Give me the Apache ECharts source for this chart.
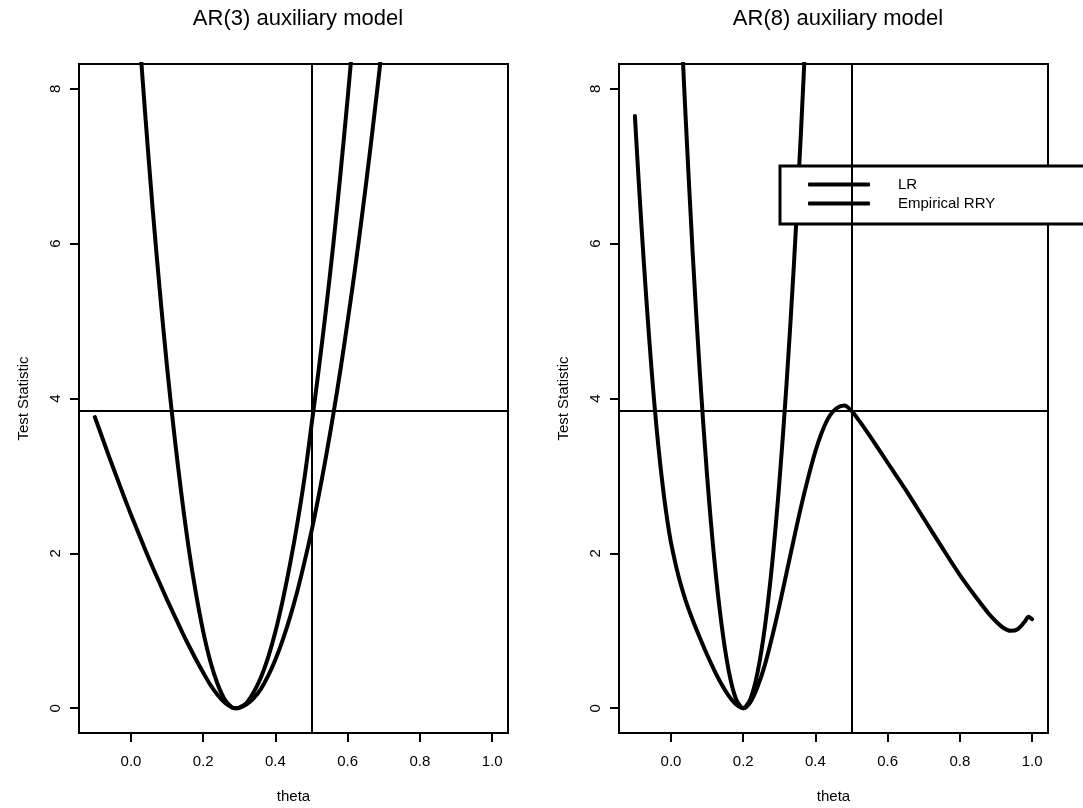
<!DOCTYPE html>
<html>
<head>
<meta charset="utf-8">
<title>AR auxiliary models</title>
<script src="https://cdn.jsdelivr.net/npm/echarts@6/dist/echarts.min.js"></script>
<style>
  html, body { margin: 0; padding: 0; background: #fff; }
  #chart { width: 1083px; height: 808px; }
</style>
</head>
<body>
<div id="chart"></div>
<script>
// tick labels
const xTicks = [0, 0.2, 0.4, 0.6, 0.8, 1.0];
const yTicks = [0, 2, 4, 6, 8];
const critValue = 3.84;   // horizontal reference
const trueTheta = 0.5;    // vertical reference

// AR(3) panel
const ar3SteepTheta = [0.02, 0.04, 0.06, 0.08, 0.10, 0.12, 0.14, 0.16, 0.18, 0.20, 0.22, 0.24, 0.26, 0.28, 0.29,
  0.30, 0.32, 0.34, 0.36, 0.38, 0.40, 0.42, 0.44, 0.46, 0.48, 0.50, 0.52, 0.54, 0.56, 0.58, 0.60, 0.62];
const ar3Steep = [8.89, 7.63, 6.45, 5.38, 4.40, 3.53, 2.75, 2.06, 1.48, 0.99, 0.60, 0.31, 0.11, 0.01, 0,
  0.01, 0.07, 0.21, 0.40, 0.66, 0.99, 1.39, 1.85, 2.37, 2.96, 3.66, 4.38, 5.15, 5.98, 6.90, 7.88, 8.93];
const ar3WideTheta = [-0.10, -0.08, -0.06, -0.04, -0.02, 0.00, 0.02, 0.04, 0.06, 0.08, 0.10, 0.12, 0.14, 0.16,
  0.18, 0.20, 0.22, 0.24, 0.26, 0.28, 0.29, 0.30, 0.32, 0.34, 0.36, 0.38, 0.40, 0.42, 0.44, 0.46, 0.48, 0.50,
  0.52, 0.54, 0.56, 0.58, 0.60, 0.62, 0.64, 0.66, 0.68, 0.70];
const ar3Wide = [3.76, 3.50, 3.24, 2.99, 2.74, 2.50, 2.27, 2.04, 1.82, 1.61, 1.40, 1.20, 1.00, 0.81,
  0.63, 0.46, 0.30, 0.17, 0.07, 0.01, 0, 0.005, 0.05, 0.13, 0.25, 0.42, 0.63, 0.88, 1.17, 1.50, 1.88, 2.29,
  2.75, 3.25, 3.79, 4.37, 5.00, 5.66, 6.37, 7.12, 7.91, 8.74];

// AR(8) panel
const ar8SteepTheta = [0.03, 0.04, 0.06, 0.08, 0.10, 0.12, 0.14, 0.16, 0.18, 0.20,
  0.22, 0.24, 0.26, 0.28, 0.30, 0.32, 0.34, 0.36, 0.38];
const ar8Steep = [8.67, 7.68, 5.88, 4.32, 3.00, 1.92, 1.08, 0.48, 0.12, 0,
  0.12, 0.47, 1.05, 1.86, 2.91, 4.19, 5.70, 7.45, 9.43];
const ar8WideTheta = [-0.10, -0.09, -0.08, -0.07, -0.06, -0.05, -0.04, -0.03, -0.02, -0.01, 0.00, 0.02, 0.04,
  0.06, 0.08, 0.10, 0.12, 0.14, 0.16, 0.18, 0.20, 0.22, 0.24, 0.26, 0.28, 0.30, 0.32, 0.34, 0.36, 0.38, 0.40,
  0.42, 0.44, 0.46, 0.48, 0.50, 0.52, 0.55, 0.60, 0.65, 0.70, 0.75, 0.80, 0.85, 0.88, 0.90, 0.92, 0.94, 0.96,
  0.98, 0.99, 1.00];
const ar8Wide = [7.65, 6.85, 6.10, 5.40, 4.75, 4.15, 3.62, 3.16, 2.76, 2.42, 2.14, 1.72, 1.40,
  1.14, 0.91, 0.69, 0.49, 0.31, 0.16, 0.05, 0, 0.08, 0.28, 0.56, 0.92, 1.32, 1.75, 2.18, 2.60, 2.98, 3.32,
  3.59, 3.78, 3.88, 3.91, 3.84, 3.72, 3.52, 3.17, 2.82, 2.45, 2.08, 1.72, 1.40, 1.22, 1.12, 1.04, 1.00, 1.02,
  1.12, 1.18, 1.15];

const pair = (xs, ys) => xs.map((x, i) => [x, ys[i]]);
const font = 'Liberation Sans';

function xAxisFor(i) {
  return {
    type: 'value', gridIndex: i, min: -0.144, max: 1.044,
    name: 'theta', nameLocation: 'middle', nameGap: 56,
    nameTextStyle: { fontFamily: font, fontSize: 15, color: '#000' },
    axisLine: { show: false, onZero: false },
    splitLine: { show: false },
    axisTick: { customValues: xTicks, length: 9, lineStyle: { color: '#000', width: 2 } },
    axisLabel: { customValues: xTicks, margin: 21, fontFamily: font, fontSize: 15, color: '#000',
      formatter: v => v.toFixed(1) }
  };
}
function yAxisFor(i) {
  return {
    type: 'value', gridIndex: i, min: -0.32, max: 8.32,
    name: 'Test Statistic', nameLocation: 'middle', nameGap: 48, nameRotate: 90,
    nameTextStyle: { fontFamily: font, fontSize: 15, color: '#000' },
    axisLine: { show: false, onZero: false },
    splitLine: { show: false },
    axisTick: { customValues: yTicks, length: 9, lineStyle: { color: '#000', width: 2 } },
    axisLabel: { customValues: yTicks, margin: 16, rotate: 90, fontFamily: font, fontSize: 15, color: '#000' }
  };
}
function curve(name, i, data, withRefs) {
  const s = {
    name: name, type: 'line', xAxisIndex: i, yAxisIndex: i, data: data,
    showSymbol: false, smooth: 0.3, clip: true, silent: true,
    lineStyle: { color: '#000', width: 4, cap: 'round', join: 'round' },
    itemStyle: { color: '#000' }
  };
  if (withRefs) {
    s.markLine = {
      silent: true, symbol: 'none', label: { show: false },
      lineStyle: { color: '#000', width: 2, type: 'solid' },
      data: [{ yAxis: critValue }, { xAxis: trueTheta }]
    };
  }
  return s;
}

const chart = echarts.init(document.getElementById('chart'));
chart.setOption({
  animation: false,
  backgroundColor: '#fff',
  title: [
    { text: 'AR(3) auxiliary model', left: 293, top: 3, textAlign: 'center',
      textStyle: { fontFamily: font, fontSize: 22, fontWeight: 'normal', color: '#000' } },
    { text: 'AR(8) auxiliary model', left: 833, top: 3, textAlign: 'center',
      textStyle: { fontFamily: font, fontSize: 22, fontWeight: 'normal', color: '#000' } }
  ],
  legend: {
    data: ['LR', 'Empirical RRY'], orient: 'vertical', left: 780, top: 166,
    padding: [11, 120, 13, 28], itemGap: 4, itemWidth: 62, itemHeight: 4, icon: 'roundRect',
    backgroundColor: '#fff', borderColor: '#000', borderWidth: 3, selectedMode: false,
    textStyle: { fontFamily: font, fontSize: 15, color: '#000', padding: [0, 0, 0, 23] }
  },
  grid: [
    { left: 79, top: 64, width: 429, height: 669, show: true, borderColor: '#000', borderWidth: 2,
      outerBoundsMode: 'none', containLabel: false },
    { left: 619, top: 64, width: 429, height: 669, show: true, borderColor: '#000', borderWidth: 2,
      outerBoundsMode: 'none', containLabel: false }
  ],
  xAxis: [xAxisFor(0), xAxisFor(1)],
  yAxis: [yAxisFor(0), yAxisFor(1)],
  series: [
    curve('LR', 0, pair(ar3SteepTheta, ar3Steep), false),
    curve('Empirical RRY', 0, pair(ar3WideTheta, ar3Wide), true),
    curve('LR', 1, pair(ar8SteepTheta, ar8Steep), false),
    curve('Empirical RRY', 1, pair(ar8WideTheta, ar8Wide), true)
  ]
});
</script>
</body>
</html>
